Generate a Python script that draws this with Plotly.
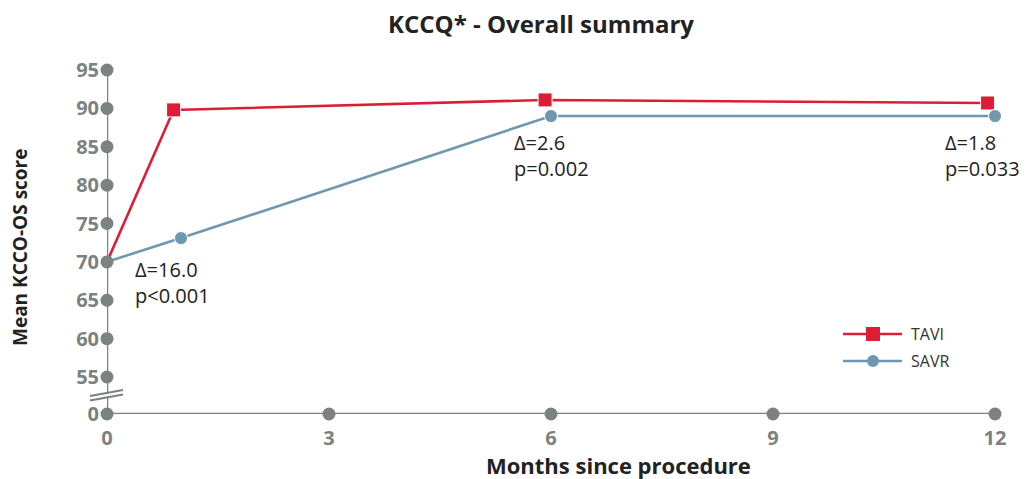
import plotly.graph_objects as go

# ---- data ----
months_tavi = [0, 0.9, 5.92, 11.9]
tavi = [70, 89.8, 91.1, 90.7]
months_savr = [0, 1, 6, 12]
savr = [70, 73.1, 89.0, 89.0]

x_ticks = [0, 3, 6, 9, 12]
y_ticks = [55, 60, 65, 70, 75, 80, 85, 90, 95]
Y_ZERO = 50.18  # display position of the broken-axis "0"

annot_x = [0.35, 5.47, 11.3]
annot_y = [71.0, 87.6, 87.6]
annot_text = ["Δ=16.0<br>p<0.001", "Δ=2.6<br>p=0.002", "Δ=1.8<br>p=0.033"]

series_names = ["TAVI", "SAVR"]

RED = "#dc1d35"
BLUE = "#6f98b0"
GREY = "#7b8280"
FONT = "Open Sans"

# page-pixel plot area (page has an 8px body offset)
PX_L, PX_R, PX_T, PX_B = 107, 995, 70, 414
OFF = 8


def px(xp):
    return (xp - PX_L) / (PX_R - PX_L)


def py(yp):
    return (PX_B - yp) / (PX_B - PX_T)


fig = go.Figure()

# data lines
fig.add_trace(go.Scatter(
    x=months_tavi, y=tavi, mode="lines+markers",
    line=dict(color=RED, width=2.6),
    marker=dict(symbol="square", size=[0, 14, 14, 14], color=RED, opacity=1),
    showlegend=False, cliponaxis=False, hoverinfo="skip"))
fig.add_trace(go.Scatter(
    x=months_savr, y=savr, mode="lines+markers",
    line=dict(color=BLUE, width=2.6),
    marker=dict(symbol="circle", size=[0, 13, 13, 13], color=BLUE, opacity=1),
    showlegend=False, cliponaxis=False, hoverinfo="skip"))

# axis lines
fig.add_shape(type="line", x0=0, x1=12, y0=Y_ZERO, y1=Y_ZERO,
              line=dict(color=GREY, width=2.5), layer="below")
fig.add_shape(type="line", x0=0, x1=0, y0=Y_ZERO, y1=95,
              line=dict(color=GREY, width=2.5), layer="below")
# axis break marks (paper-referenced so they are not clipped)
fig.add_shape(type="line", xref="paper", yref="paper",
              x0=px(90), x1=px(123), y0=py(398), y1=py(392),
              line=dict(color="white", width=4))
fig.add_shape(type="line", xref="paper", yref="paper",
              x0=px(90), x1=px(123), y0=py(396), y1=py(390),
              line=dict(color=GREY, width=2))
fig.add_shape(type="line", xref="paper", yref="paper",
              x0=px(90), x1=px(123), y0=py(400.5), y1=py(394.5),
              line=dict(color=GREY, width=2))

# axis tick dots
fig.add_trace(go.Scatter(
    x=[0] * len(y_ticks) + x_ticks,
    y=y_ticks + [Y_ZERO] * len(x_ticks),
    mode="markers", marker=dict(color=GREY, size=13, opacity=1),
    showlegend=False, cliponaxis=False, hoverinfo="skip"))

# custom legend
leg_rows = [334, 361]
leg_colors = [RED, BLUE]
leg_symbols = ["rect", "circle"]
leg_sizes = [14, 12]
for name, ry, col, sym, sz in zip(series_names, leg_rows, leg_colors, leg_symbols, leg_sizes):
    fig.add_shape(type="line", xref="paper", yref="paper",
                  x0=px(843), x1=px(902), y0=py(ry), y1=py(ry),
                  line=dict(color=col, width=2.6))
    fig.add_shape(type=sym, xref="paper", yref="paper",
                  xsizemode="pixel", ysizemode="pixel",
                  xanchor=px(873), yanchor=py(ry),
                  x0=-sz / 2, x1=sz / 2, y0=-sz / 2, y1=sz / 2,
                  fillcolor=col, line=dict(color=col, width=0))
    fig.add_annotation(xref="paper", yref="paper", x=px(909), y=py(ry),
                       text=name, showarrow=False, xanchor="left", yanchor="middle",
                       font=dict(family=FONT, size=16, color="#333333"))

for ax, ay, t in zip(annot_x, annot_y, annot_text):
    fig.add_annotation(x=ax, y=ay, text=t, showarrow=False,
                       xanchor="left", yanchor="top", align="left",
                       font=dict(family=FONT, size=20, color="#222222"))

fig.add_annotation(xref="paper", yref="paper", x=px(618), y=py(465),
                   text="<b>Months since procedure</b>", showarrow=False,
                   xanchor="center", yanchor="middle",
                   font=dict(family=FONT, size=22, color="#222222"))
fig.add_annotation(xref="paper", yref="paper", x=px(20), y=py(248),
                   text="<b>Mean KCCO-OS score</b>", showarrow=False,
                   textangle=-90, xanchor="center", yanchor="middle",
                   font=dict(family=FONT, size=19, color="#222222"))

W, H = 1029, 479
fig.update_layout(
    width=W, height=H,
    margin=dict(l=PX_L - OFF, r=W - (PX_R - OFF), t=PX_T - OFF, b=H - (PX_B - OFF)),
    paper_bgcolor="white", plot_bgcolor="white",
    showlegend=False,
    title=dict(text="<b>KCCQ* - Overall summary</b>", x=(541 - OFF) / W, xanchor="center",
               y=1 - (25 - OFF) / H, yanchor="middle",
               font=dict(family=FONT, size=24, color="#222222")),
    xaxis=dict(range=[0, 12], tickvals=x_ticks, ticktext=[f"<b>{v}</b>" for v in x_ticks],
               showgrid=False, zeroline=False, showline=False, ticks="",
               ticklabelstandoff=10,
               tickfont=dict(family=FONT, size=20, color=GREY)),
    yaxis=dict(range=[Y_ZERO, 95], tickvals=[Y_ZERO] + y_ticks,
               ticktext=["<b>0</b>"] + [f"<b>{v}</b>" for v in y_ticks],
               showgrid=False, zeroline=False, showline=False, ticks="",
               ticklabelstandoff=7,
               tickfont=dict(family=FONT, size=20, color=GREY)),
)

fig.write_html("out.html")
